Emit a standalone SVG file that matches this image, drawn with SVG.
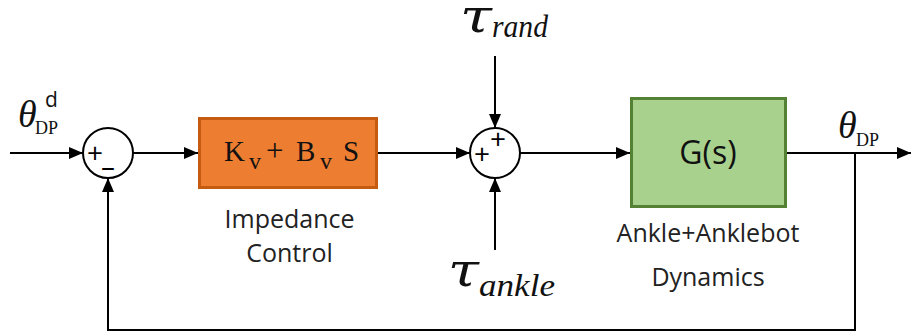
<svg xmlns="http://www.w3.org/2000/svg" width="912" height="336" viewBox="0 0 912 336">
  <defs>
    <marker id="arrow" viewBox="0 0 14 12" refX="14" refY="6" markerWidth="14" markerHeight="12" markerUnits="userSpaceOnUse" orient="auto">
      <path d="M0,0 L14,6 L0,12 Z" fill="#000"/>
    </marker>
    <style>
      .wire { fill: none; stroke: #000; stroke-width: 2; }
      .sum { fill: #fff; stroke: #000; stroke-width: 2; }
      .label { font-family: "Open Sans", "Liberation Sans", sans-serif; font-size: 25px; fill: #222; text-anchor: middle; }
      .gs { font-size: 32px; fill: #111; }
      .sign { font-family: "Open Sans", "Liberation Sans", sans-serif; font-size: 28px; fill: #000; text-anchor: middle; }
      .math { font-family: "Liberation Serif", "DejaVu Serif", serif; fill: #111; }
      .tau { font-family: "DejaVu Serif", "Liberation Serif", serif; font-style: italic; fill: #111; }
      .it { font-style: italic; }
    </style>
  </defs>

  <!-- signal lines -->
  <g id="connectors">
    <line class="wire" x1="10" y1="153" x2="83" y2="153" marker-end="url(#arrow)"/>
    <line class="wire" x1="133" y1="153" x2="198" y2="153" marker-end="url(#arrow)"/>
    <line class="wire" x1="378" y1="153" x2="470" y2="153" marker-end="url(#arrow)"/>
    <line class="wire" x1="495" y1="56" x2="495" y2="128" marker-end="url(#arrow)"/>
    <line class="wire" x1="495" y1="250" x2="495" y2="178" marker-end="url(#arrow)"/>
    <line class="wire" x1="520" y1="153" x2="630" y2="153" marker-end="url(#arrow)"/>
    <line class="wire" x1="787" y1="153" x2="911" y2="153" marker-end="url(#arrow)"/>
    <path class="wire" d="M855,153 V330 H108 V178" marker-end="url(#arrow)"/>
  </g>

  <!-- reference input -->
  <g id="input-label">
    <text class="math it" x="18" y="127" font-size="38">θ</text>
    <text class="math" x="35" y="134" font-size="18">DP</text>
    <text x="45" y="107" font-family="Open Sans, Liberation Sans, sans-serif" font-size="21" fill="#111">d</text>
  </g>

  <!-- error summing junction -->
  <g id="sum-error">
    <circle class="sum" cx="108" cy="153" r="25"/>
    <text class="sign" x="95" y="163">+</text>
    <text class="sign" x="108" y="165" font-weight="bold">_</text>
  </g>

  <!-- impedance controller -->
  <g id="controller">
    <rect x="199.5" y="118.5" width="177" height="69" fill="#ED7D31" stroke="#C55A11" stroke-width="3"/>
    <text class="math" font-size="29" y="161">
      <tspan x="224">K</tspan><tspan x="249" y="169" font-size="24">v</tspan><tspan x="266" y="161" font-size="31">+</tspan><tspan x="296">B</tspan><tspan x="320" y="169" font-size="24">v</tspan><tspan x="343" y="161">S</tspan>
    </text>
    <text class="label" x="289.5" y="228">Impedance</text>
    <text class="label" x="289.5" y="262">Control</text>
  </g>

  <!-- torque summing junction -->
  <g id="sum-torque">
    <circle class="sum" cx="495" cy="153" r="25"/>
    <text class="sign" x="498" y="149">+</text>
    <text class="sign" x="482" y="164">+</text>
  </g>

  <!-- disturbance torques -->
  <g id="tau-rand">
    <text class="tau" x="460" y="32" font-size="46" textLength="32" lengthAdjust="spacingAndGlyphs">τ</text>
    <text class="math it" x="492" y="37" font-size="31" textLength="56" lengthAdjust="spacingAndGlyphs">rand</text>
  </g>
  <g id="tau-ankle">
    <text class="tau" x="448" y="286" font-size="46" textLength="31" lengthAdjust="spacingAndGlyphs">τ</text>
    <text class="math it" x="479" y="296" font-size="31" textLength="76" lengthAdjust="spacingAndGlyphs">ankle</text>
  </g>

  <!-- plant -->
  <g id="plant">
    <rect x="631.5" y="98.5" width="154" height="108" fill="#A9D18E" stroke="#548235" stroke-width="3"/>
    <text class="label gs" x="708" y="164">G(s)</text>
    <text class="label" x="708" y="242">Ankle+Anklebot</text>
    <text class="label" x="708" y="286">Dynamics</text>
  </g>

  <!-- output -->
  <g id="output-label">
    <text class="math it" x="838" y="138" font-size="38">θ</text>
    <text class="math" x="856" y="146" font-size="18">DP</text>
  </g>
</svg>
